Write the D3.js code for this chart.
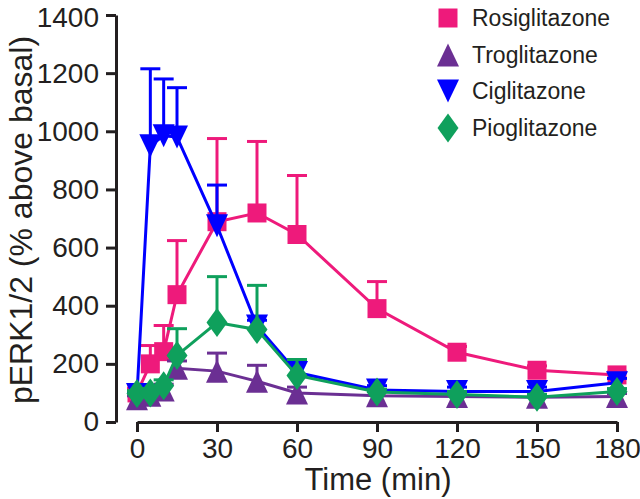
<!DOCTYPE html>
<html>
<head>
<meta charset="utf-8">
<script src="https://cdn.jsdelivr.net/npm/d3@7"></script>
<style>
  html, body { margin: 0; padding: 0; background: #fff; }
  svg { display: block; }
  text { font-family: "Liberation Sans", Arial, Helvetica, sans-serif; fill: #231f20; }
</style>
</head>
<body>
<svg id="chart" width="640" height="499"></svg>
<script>
// ---- data ----
const times = [0, 5, 10, 15, 30, 45, 60, 90, 120, 150, 180];
const seriesNames = ["Rosiglitazone", "Troglitazone", "Ciglitazone", "Pioglitazone"];
const rosiglitazone = [100, 200, 242, 438, 689, 719, 645, 390, 240, 178, 162];
const rosiglitazoneErr = [15, 63, 90, 186, 286, 246, 203, 93, 20, 15, 10];
const troglitazone = [80, 92, 110, 185, 175, 140, 100, 90, 88, 85, 88];
const troglitazoneErr = [10, 15, 20, 25, 62, 55, 20, 15, 10, 10, 10];
const ciglitazone = [95, 950, 985, 980, 675, 330, 170, 110, 105, 105, 135];
const ciglitazoneErr = [10, 265, 195, 170, 140, 20, 40, 15, 15, 15, 15];
const pioglitazone = [98, 100, 125, 229, 342, 318, 160, 103, 95, 85, 105];
const pioglitazoneErr = [10, 15, 20, 92, 158, 152, 55, 10, 10, 10, 10];
const xTicks = [0, 30, 60, 90, 120, 150, 180];
const yTicks = [0, 200, 400, 600, 800, 1000, 1200, 1400];
const colors = ["#ee1a7b", "#6b2f93", "#0000ff", "#0fa05c"];
const shapes = ["square", "triangleUp", "triangleDown", "diamond"];

const seriesValues = [rosiglitazone, troglitazone, ciglitazone, pioglitazone];
const seriesErrs = [rosiglitazoneErr, troglitazoneErr, ciglitazoneErr, pioglitazoneErr];

// ---- layout ----
const svg = d3.select("#chart");
const x = d3.scaleLinear().domain([0, 180]).range([137, 617]);
const y = d3.scaleLinear().domain([0, 1400]).range([422, 15]);

function markerPath(shape) {
  switch (shape) {
    case "square": return "M-9.5,-9.5H9.5V9.5H-9.5Z";
    case "triangleUp": return "M0,-11.5L11,11.5L-11,11.5Z";
    case "triangleDown": return "M0,11.5L11,-11.5L-11,-11.5Z";
    case "diamond": return "M0,-14.5L10.5,0L0,14.5L-10.5,0Z";
  }
}

// ---- axes ----
const yAxis = d3.axisLeft(y).tickValues(yTicks).tickFormat(d3.format("d"))
  .tickSize(10).tickPadding(7).tickSizeOuter(0);
const gy = svg.append("g").attr("transform", "translate(116,0)").call(yAxis);
gy.select(".domain").attr("stroke", "#231f20").attr("stroke-width", 3);
gy.selectAll(".tick line").attr("stroke", "#231f20").attr("stroke-width", 3);
gy.selectAll(".tick text").attr("font-size", 28).attr("fill", "#231f20")
  .style("font-family", "'Liberation Sans', Arial, sans-serif")
  .attr("dy", d => d === 1400 ? "0.4em" : "0.32em");

const xAxis = d3.axisBottom(x).tickValues(xTicks).tickFormat(d3.format("d"))
  .tickSize(10).tickPadding(6).tickSizeOuter(0);
const gx = svg.append("g").attr("transform", "translate(0,422)").call(xAxis);
gx.select(".domain").attr("stroke", "#231f20").attr("stroke-width", 3);
gx.selectAll(".tick line").attr("stroke", "#231f20").attr("stroke-width", 3);
gx.selectAll(".tick text").attr("font-size", 28).attr("fill", "#231f20")
  .style("font-family", "'Liberation Sans', Arial, sans-serif");

svg.append("text")
  .attr("x", 378).attr("y", 490)
  .attr("text-anchor", "middle").attr("font-size", 31)
  .text("Time (min)");

svg.append("text")
  .attr("transform", "translate(32,220) rotate(-90)")
  .attr("text-anchor", "middle").attr("font-size", 32)
  .text("pERK1/2 (% above basal)");

// ---- series ----
const line = d3.line().x(d => x(d.t)).y(d => y(d.v));

seriesNames.forEach((name, i) => {
  const data = times.map((t, k) => ({ t, v: seriesValues[i][k], e: seriesErrs[i][k] }));
  const g = svg.append("g");
  const eb = g.append("g");
  data.forEach(d => {
    eb.append("line").attr("x1", x(d.t)).attr("x2", x(d.t))
      .attr("y1", y(d.v)).attr("y2", y(d.v + d.e))
      .attr("stroke", colors[i]).attr("stroke-width", 3);
    eb.append("line").attr("x1", x(d.t) - 10).attr("x2", x(d.t) + 10)
      .attr("y1", y(d.v + d.e)).attr("y2", y(d.v + d.e))
      .attr("stroke", colors[i]).attr("stroke-width", 3);
  });
  g.append("path").datum(data).attr("d", line)
    .attr("fill", "none").attr("stroke", colors[i]).attr("stroke-width", 3);
  g.selectAll("path.m").data(data).enter().append("path").attr("class", "m")
    .attr("d", markerPath(shapes[i]))
    .attr("transform", d => `translate(${x(d.t)},${y(d.v)})`)
    .attr("fill", colors[i]);
});

// ---- legend ----
const legendY = [18, 55, 91, 128];
const lg = svg.append("g");
seriesNames.forEach((name, i) => {
  lg.append("path").attr("d", markerPath(shapes[i]))
    .attr("transform", `translate(448,${legendY[i]})`)
    .attr("fill", colors[i]);
  lg.append("text").attr("x", 472).attr("y", legendY[i] + 8)
    .attr("font-size", 23).text(name);
});
</script>
</body>
</html>
